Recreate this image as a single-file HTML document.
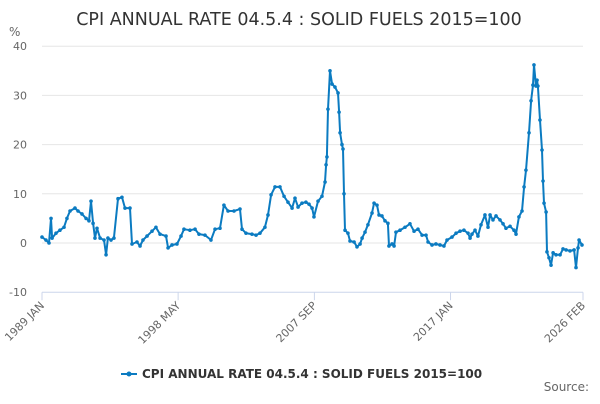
<!DOCTYPE html>
<html><head><meta charset="utf-8"><style>
body{margin:0;background:#fff;font-family:"DejaVu Sans",sans-serif}
svg text{font-family:"DejaVu Sans",sans-serif}
</style></head><body>
<svg width="600" height="400" id="c">
<text x="299" y="25" text-anchor="middle" font-size="17.5" fill="#333">CPI ANNUAL RATE 04.5.4 : SOLID FUELS 2015=100</text>
<text x="9" y="36" font-size="12" fill="#666">%</text>
<g id="grid"></g><g id="xt"></g><g id="series"></g>
<g>
<line x1="121" y1="374" x2="137" y2="374" stroke="#0b7bc1" stroke-width="2"/><circle cx="129" cy="374" r="2.5" fill="#0b7bc1"/>
<text x="142" y="378" font-size="12" font-weight="bold" fill="#333">CPI ANNUAL RATE 04.5.4 : SOLID FUELS 2015=100</text></g>
<text x="589" y="391" text-anchor="end" font-size="12" fill="#666">Source:</text>
</svg>
<script>
const yTicks=[40,30,20,10,0,-10];
const xTickLabels=["1989 JAN","1998 MAY","2007 SEP","2017 JAN","2026 FEB"];
const xTickDates=[1989.0,1998.33,2007.67,2017.0,2026.08];
const dates=[1989.00,1989.27,1989.48,1989.62,1989.69,1989.96,1990.23,1990.51,1990.71,1990.92,1991.26,1991.47,1991.74,1992.02,1992.22,1992.36,1992.50,1992.63,1992.77,1992.98,1993.25,1993.39,1993.52,1993.73,1993.93,1994.21,1994.48,1994.69,1995.03,1995.17,1995.51,1995.72,1995.92,1996.20,1996.54,1996.81,1997.09,1997.50,1997.64,1997.91,1998.25,1998.53,1998.73,1999.14,1999.49,1999.76,2000.17,2000.58,2000.86,2001.20,2001.47,2001.75,2002.16,2002.57,2002.71,2002.98,2003.39,2003.67,2003.94,2004.28,2004.49,2004.70,2004.97,2005.31,2005.59,2005.86,2006.14,2006.34,2006.55,2006.82,2007.09,2007.30,2007.51,2007.64,2007.92,2008.19,2008.40,2008.47,2008.53,2008.60,2008.74,2008.88,2009.08,2009.29,2009.36,2009.43,2009.56,2009.63,2009.70,2009.77,2009.97,2010.11,2010.39,2010.59,2010.80,2010.94,2011.14,2011.34,2011.62,2011.76,2011.96,2012.10,2012.30,2012.51,2012.71,2012.78,2012.99,2013.13,2013.26,2013.54,2013.88,2014.22,2014.50,2014.77,2015.05,2015.32,2015.46,2015.73,2016.00,2016.28,2016.55,2016.76,2017.10,2017.38,2017.65,2017.92,2018.20,2018.34,2018.47,2018.68,2018.88,2019.09,2019.36,2019.57,2019.71,2019.91,2020.12,2020.39,2020.60,2020.80,2021.08,2021.35,2021.49,2021.69,2021.90,2022.04,2022.17,2022.38,2022.52,2022.65,2022.72,2022.86,2022.93,2022.99,2023.13,2023.27,2023.34,2023.41,2023.55,2023.61,2023.75,2023.89,2024.03,2024.23,2024.51,2024.71,2024.92,2025.19,2025.47,2025.60,2025.74,2025.81,2026.01];
const values=[1.2,0.6,0,5,1,2,2.6,3.2,5,6.5,7.1,6.5,5.9,5,4.5,8.5,4,1,3,1,0.6,-2.4,1,0.6,1,9,9.3,7.1,7.1,-0.2,0.2,-0.6,0.6,1.4,2.4,3.2,1.8,1.4,-1,-0.4,-0.2,1.4,2.8,2.6,2.8,1.8,1.6,0.6,2.8,3,7.7,6.5,6.5,6.9,2.8,2,1.8,1.6,2,3.2,5.7,9.8,11.4,11.4,9.5,8.3,7.1,9.1,7.3,8.1,8.3,7.9,7.1,5.3,8.5,9.5,12.4,15.9,17.5,27.2,35,32.3,31.7,30.5,26.6,22.4,20,19.1,10,2.6,2,0.4,0.2,-0.8,-0.2,1,2.2,3.7,6.1,8.1,7.7,5.7,5.5,4.5,4,-0.6,-0.2,-0.6,2.2,2.6,3.2,3.9,2.4,2.8,1.6,1.6,0.2,-0.4,-0.2,-0.4,-0.6,0.6,1.2,2,2.4,2.6,2,1,1.8,2.6,1.4,3.7,5.7,3.2,5.7,4.7,5.5,4.7,3.9,3,3.4,2.6,1.8,5.3,6.5,11.4,14.8,22.4,28.9,32.1,36.2,31.9,33.1,31.9,25,18.9,12.6,8.1,6.3,-1.8,-3,-4.5,-2,-2.4,-2.4,-1.2,-1.4,-1.6,-1.4,-5,-1,0.6,-0.4];
const NS="http://www.w3.org/2000/svg";
const X0=42,X1=583,D0=1989.0,D1=2026.08;
function xs(d){return X0+(d-D0)/(D1-D0)*(X1-X0);}
function ys(v){return 243-v*4.92;}
const grid=document.getElementById('grid');
yTicks.forEach(t=>{
 const l=document.createElementNS(NS,'line');
 
 
 l.setAttribute('x1',X0);l.setAttribute('x2',X1);l.setAttribute('y1',ys(t));l.setAttribute('y2',ys(t));
 l.setAttribute('stroke',t===-10?'#ccd6eb':'#e6e6e6');l.setAttribute('stroke-width',1);
 grid.appendChild(l);
 const tx=document.createElementNS(NS,'text');
 
 
 tx.setAttribute('x',27);tx.setAttribute('y',ys(t)+4);tx.setAttribute('text-anchor','end');
 tx.setAttribute('font-size','11');tx.setAttribute('fill','#666');tx.textContent=t;
 grid.appendChild(tx);
});
const xt=document.getElementById('xt');
xTickLabels.forEach((lab,i)=>{
 const x=xs(xTickDates[i]);
 const tk=document.createElementNS(NS,'line');
 
 
 tk.setAttribute('x1',x);tk.setAttribute('x2',x);tk.setAttribute('y1',ys(-10));tk.setAttribute('y2',ys(-10)+8);
 tk.setAttribute('stroke','#ccd6eb');xt.appendChild(tk);
 const tx=document.createElementNS(NS,'text');
 
 
 tx.setAttribute('transform',`translate(${x+3},${ys(-10)+14}) rotate(-45)`);
 tx.setAttribute('text-anchor','end');tx.setAttribute('font-size','11');tx.setAttribute('fill','#666');
 tx.textContent=lab;xt.appendChild(tx);
});
const s=document.getElementById('series');
const p=document.createElementNS(NS,'path');


p.setAttribute('d',dates.map((d,i)=>(i?'L':'M')+xs(d).toFixed(1)+','+ys(values[i]).toFixed(1)).join(''));
p.setAttribute('fill','none');p.setAttribute('stroke','#0b7bc1');p.setAttribute('stroke-width','2');p.setAttribute('stroke-linejoin','round');
s.appendChild(p);
dates.forEach((d,i)=>{
 const c=document.createElementNS(NS,'circle');
 
 
 c.setAttribute('cx',xs(d));c.setAttribute('cy',ys(values[i]));c.setAttribute('r',1.8);c.setAttribute('fill','#0b7bc1');
 s.appendChild(c);
});
</script>
</body></html>
